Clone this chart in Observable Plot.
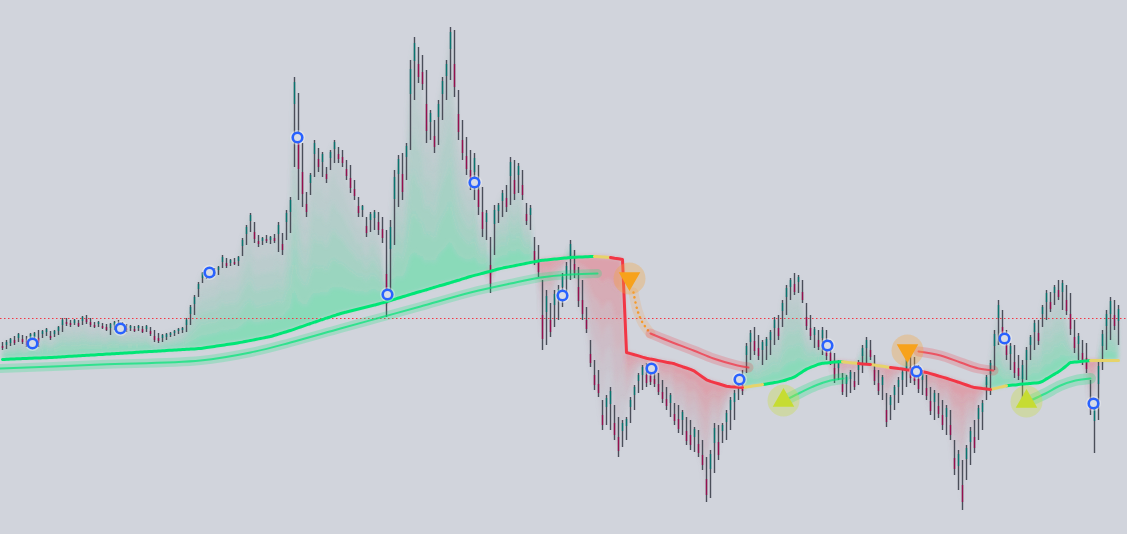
<!DOCTYPE html>
<html><head><meta charset="utf-8">
<script src="https://cdn.jsdelivr.net/npm/d3@7"></script>
<script src="https://cdn.jsdelivr.net/npm/@observablehq/plot@0.6"></script>
<style>html,body{margin:0;padding:0;background:#d1d4dc;overflow:hidden}</style>
</head><body><div id="chart"></div>
<script>
// ---- price bars (bar index 0..279), values in chart price units ----
const high = [
192,194,196,198,201,199,198,201,202,204,
204,206,203,204,208,216,216,214,215,214,
218,219,216,212,213,211,210,211,213,214,
212,210,209,208,209,208,209,207,204,201,
200,201,202,204,206,207,216,229,239,252,
262,266,265,266,268,279,276,275,276,278,
296,309,321,312,299,297,299,298,300,312,
301,324,337,457,441,391,342,361,394,386,
382,367,384,394,387,384,374,369,354,337,
329,317,322,324,322,317,304,314,364,379,
381,391,474,497,487,479,464,424,414,434,
457,474,507,504,444,414,397,384,381,369,
347,324,297,329,331,344,349,377,374,371,
364,331,329,297,289,254,244,231,244,249,
261,272,294,284,267,254,227,194,174,164,
134,139,147,129,117,114,117,137,149,161,
169,171,169,164,161,154,147,141,131,129,
124,117,114,107,104,94,77,84,111,109,
111,124,137,144,159,164,191,204,207,199,
194,197,204,217,219,234,249,256,261,259,
254,231,219,207,204,207,204,194,181,174,
161,159,164,162,174,189,197,194,179,164,
159,141,139,149,157,164,177,184,177,169,
164,159,147,144,141,134,129,124,94,84,
74,89,107,114,129,134,159,174,204,234,
224,204,191,189,179,174,187,199,214,214,
229,244,242,249,254,254,249,241,214,201,
194,191,154,134,174,204,224,237,234,229];
const low = [
184,185,188,189,192,190,187,191,193,187,
196,198,194,197,199,202,208,207,209,207,
209,210,207,206,207,205,203,199,204,206,
203,202,203,202,203,201,202,198,192,191,
192,194,197,198,200,201,202,209,219,237,
251,255,257,258,259,266,266,268,269,268,
278,289,302,291,287,289,291,290,291,282,
279,294,301,367,334,327,317,339,357,362,
357,351,364,371,371,367,354,341,334,317,
317,297,302,304,299,291,217,241,289,327,
334,354,384,434,451,444,391,394,381,389,
414,434,454,437,394,374,359,344,334,319,
297,294,241,279,311,317,322,329,334,341,
334,309,304,269,257,184,189,197,207,214,
227,239,254,256,227,214,201,167,144,137,
104,109,104,94,77,87,94,111,124,141,
144,147,149,147,139,131,124,117,109,101,
99,89,84,82,77,64,32,36,61,74,
91,94,104,114,134,139,161,174,179,174,
169,174,179,189,194,207,219,234,239,241,
231,204,194,186,184,179,174,169,151,154,
139,137,141,144,149,161,169,174,149,139,
134,107,114,124,131,139,147,151,149,141,
139,134,119,114,116,104,99,94,59,44,
24,54,69,81,94,104,134,139,164,189,
191,174,164,156,154,127,154,174,184,189,
207,214,222,229,234,224,219,199,181,174,
169,161,119,81,114,164,184,194,204,189];
const open = [
188,189,191,194,196,195,193,196,197,196,
200,202,198,200,203,209,212,211,211,211,
213,215,212,209,210,208,207,206,209,210,
208,206,206,205,206,205,205,203,198,196,
196,197,199,201,203,204,209,220,230,245,
256,261,261,262,264,272,271,271,272,273,
288,300,313,302,293,293,295,294,296,300,
290,312,322,430,395,362,330,351,380,375,
372,360,376,385,380,377,365,356,345,328,
324,308,314,316,312,305,260,285,335,360,
360,377,440,473,470,462,430,412,398,417,
440,458,485,470,420,394,378,364,362,344,
322,312,269,310,323,333,336,358,354,359,
349,320,319,283,273,219,222,214,229,235,
247,259,278,270,247,234,214,180,159,150,
119,127,130,111,97,103,108,127,139,153,
159,159,159,155,150,142,135,131,120,115,
114,103,99,97,90,79,55,65,91,92,
103,112,124,132,149,151,179,192,193,186,
184,188,194,206,206,223,237,247,250,252,
242,217,206,199,194,196,189,181,166,166,
150,150,155,153,164,178,186,184,164,151,
149,124,129,139,147,154,165,167,163,155,
154,146,133,132,128,119,117,109,76,68,
49,75,92,97,115,122,149,160,188,216,
207,189,180,172,166,155,174,189,202,201,
220,232,232,241,244,242,234,220,197,190,
181,176,136,113,150,188,208,220,219,213];
const close = [
186,192,195,191,200,192,189,200,201,191,
203,205,196,203,207,214,210,209,214,208,
217,212,209,207,212,206,204,210,212,208,
205,204,208,203,208,202,208,200,194,193,
199,200,201,203,205,206,214,227,237,250,
261,257,264,260,267,277,268,274,270,277,
294,307,319,295,290,296,293,297,293,309,
284,321,334,452,365,340,322,359,391,367,
380,355,382,392,375,371,358,346,338,321,
328,301,320,322,304,296,230,307,357,375,
342,388,465,491,457,450,403,421,387,430,
453,470,502,447,402,381,365,351,376,327,
305,321,250,324,329,341,327,372,340,368,
339,313,326,274,262,195,238,202,240,245,
257,268,290,261,233,220,205,171,149,141,
109,136,143,99,83,111,115,134,147,159,
167,151,152,150,142,135,128,139,113,105,
122,93,89,105,81,69,39,80,106,79,
109,121,134,141,157,143,188,201,183,178,
192,195,202,214,198,231,246,254,242,257,
234,208,198,205,187,204,178,172,155,172,
142,157,162,147,172,186,194,177,153,143,
157,112,137,147,154,162,174,156,153,145,
162,138,123,141,120,109,126,99,65,80,
32,86,103,86,126,131,157,171,200,229,
196,179,188,161,158,169,184,197,211,193,
227,241,225,247,237,251,223,205,186,198,
173,165,124,129,168,200,220,233,208,225];
// ---- trend line (one value per bar) ----
const trend = [
175.0,175.2,175.4,175.6,175.7,175.9,176.0,176.2,176.4,176.5,
176.7,176.8,177.0,177.2,177.5,177.7,178.0,178.2,178.4,178.7,
178.9,179.2,179.4,179.6,179.9,180.1,180.4,180.6,180.8,181.1,
181.3,181.6,181.8,182.0,182.3,182.5,182.8,183.0,183.2,183.5,
183.7,184.0,184.2,184.4,184.7,184.9,185.2,185.4,185.6,185.9,
186.3,186.9,187.5,188.1,188.7,189.3,189.9,190.5,191.1,191.7,
192.4,193.2,194.0,194.8,195.6,196.4,197.2,198.0,199.2,200.4,
201.6,202.8,204.0,205.4,206.8,208.2,209.6,211.0,212.3,213.7,
215.0,216.3,217.7,219.0,220.3,221.5,222.5,223.5,224.5,225.5,
226.5,227.5,228.5,229.5,230.5,231.6,232.8,234.0,235.2,236.5,
237.7,238.9,240.1,241.3,242.5,243.6,244.8,246.0,247.2,248.4,
249.5,250.7,251.9,253.1,254.3,255.6,256.8,258.0,259.1,260.1,
261.2,262.3,263.3,264.4,265.5,266.4,267.2,268.0,268.8,269.6,
270.4,271.2,272.0,272.8,273.6,274.2,274.6,275.0,275.4,275.8,
276.2,276.6,277.0,277.2,277.4,277.5,277.7,277.9,278.0,277.8,
277.6,277.2,277.0,276.3,275.7,275.0,182.0,180.9,179.7,178.6,
177.4,176.3,175.4,174.7,173.9,173.1,172.3,171.6,170.7,169.2,
167.8,166.5,165.1,163.3,160.4,157.6,154.7,153.1,151.9,150.7,
149.5,148.3,147.8,147.6,147.3,147.1,147.5,148.1,148.7,149.3,
149.9,150.5,151.2,151.9,152.6,153.6,154.8,156.1,157.6,160.2,
162.8,165.4,167.2,168.7,170.2,171.2,171.6,172.0,172.4,172.8,
172.8,172.3,171.8,171.4,170.9,170.6,170.3,170.0,169.4,168.8,
168.2,167.6,167.0,166.5,165.9,165.4,164.8,164.3,163.8,163.2,
162.7,162.1,160.9,159.7,158.5,157.4,156.2,154.9,153.6,152.3,
150.9,149.5,148.1,146.9,146.4,145.9,145.5,145.0,145.9,146.9,
147.8,148.8,149.3,149.6,150.0,150.4,150.7,151.1,151.5,151.8,
153.2,155.6,158.0,160.4,162.8,165.6,168.8,172.0,172.4,172.8,
173.2,173.6,174.0,174.0,174.0,174.0,174.0,174.0,174.0,174.0];
// trend state segments (start bar index, state)
const segStart = [0,148,152,185,190,210,214,217,222,247,251,272];
const segState = ["up","mid","down","mid","up","mid","down","mid","down","mid","up","mid"];
// reference level
const levelLine = [216];
// ring markers
const markIdx = [7.5,29.5,51.75,73.75,96.25,118,140,162.25,184.25,206.25,228.5,250.5,272.75];
const markVal = [191,206,262,397,240,352,239,166,155,189,163,196,131];
// echo lines
const shadowIdx = [-0.5,24.5,49.5,62,72,84.5,94.5,104.5,117,127,134.5,142,148.75];
const shadowVal = [166,170,174,182,192,206,217,228,242,251,257,260,261];
const trailDotIdx = [157.75,158.75,160,162];
const trailDotVal = [242,224,212,201];
const trailR1Idx = [162,166.25,172.75,177.75,183.75,186.5];
const trailR1Val = [201,194,184,176,169,167];
const trailG1Idx = [196.5,199.5,203.25,207,210.25];
const trailG1Val = [136,142,149,154,156];
const trailR2Idx = [229,234.5,239.5,244,247.75];
const trailR2Val = [183,179,172,166,164];
const trailG2Idx = [257,260.75,264.5,268.25,272];
const trailG2Val = [134,141,149,154,156];
// signal arrows
const arrowIdx = [156.75,195.25,226.25,256];
const arrowVal = [256,134,184,133];
const arrowDir = ["down","up","down","up"];

// ---- build tables ----
const N = high.length;
const bars = high.map((h, i) => ({i, high: h, low: low[i], open: open[i], close: close[i], trend: trend[i]}));
const segPts = [];
segStart.forEach((s, k) => {
  const e = k + 1 < segStart.length ? segStart[k + 1] : N - 1;
  for (let i = s; i <= e; i++) segPts.push({i, v: trend[i], seg: k, state: segState[k]});
});
const pts = (xs, ys) => xs.map((x, k) => ({i: x, v: ys[k]}));
const shadow = pts(shadowIdx, shadowVal);
const tDot = pts(trailDotIdx, trailDotVal), tR1 = pts(trailR1Idx, trailR1Val),
      tG1 = pts(trailG1Idx, trailG1Val), tR2 = pts(trailR2Idx, trailR2Val), tG2 = pts(trailG2Idx, trailG2Val);
const marks = pts(markIdx, markVal);
const arrows = arrowIdx.map((x, k) => ({i: x, v: arrowVal[k], dir: arrowDir[k]}));
const GREEN = "#00e676", RED = "#f23645", MID = "#e6d36a", GRAY = "#8e939e";

// fill between trend and close, split in bands so colour fades from the line toward the price
const K = 6;
function bands(above, color, a0, a1) {
  const out = [];
  const mix = d3.interpolateRgb(color, GRAY);
  for (let k = 0; k < K; k++) {
    const f0 = k / K, f1 = (k + 1) / K;
    const c = d => above ? Math.max(d.close, d.trend) : Math.min(d.close, d.trend);
    out.push(Plot.areaY(bars, {
      x: "i",
      y1: d => d.trend + (c(d) - d.trend) * f0,
      y2: d => d.trend + (c(d) - d.trend) * f1,
      fill: mix(k / (K - 1) * 0.85), fillOpacity: a0 + (a1 - a0) * k / (K - 1)
    }));
  }
  return out;
}
const glow = (data, color, w = 10, o = 0.22) => Plot.line(data, {x: "i", y: "v", curve: "catmull-rom", stroke: color, strokeWidth: w, strokeOpacity: o, strokeLinecap: "round"});
const core = (data, color, w = 2, o = 0.75) => Plot.line(data, {x: "i", y: "v", curve: "catmull-rom", stroke: color, strokeWidth: w, strokeOpacity: o, strokeLinecap: "round"});

const svg = Plot.plot({
  width: 1127, height: 534, margin: 0,
  x: {domain: [-0.5, 281.25], axis: null},
  y: {domain: [0, 534], axis: null},
  style: {background: "#d1d4dc", overflow: "hidden"},
  marks: [
    ...bands(true, GREEN, 0.34, 0.16),
    ...bands(false, RED, 0.32, 0.12),
    Plot.ruleY(levelLine, {stroke: "#f23645", strokeWidth: 1, strokeDasharray: "1.5,2.5"}),
    Plot.ruleX(bars, {x: "i", y1: "low", y2: "high", stroke: "#4a4e59", strokeWidth: 1.4}),
    Plot.ruleX(bars, {filter: d => d.close >= d.open, x: "i", y1: "open", y2: "close", stroke: "#08756f", strokeWidth: 1.4}),
    Plot.ruleX(bars, {filter: d => d.close < d.open, x: "i", y1: "open", y2: "close", stroke: "#940f4e", strokeWidth: 1.4}),
    // echo lines
    glow(shadow, GREEN, 9, 0.22), core(shadow, GREEN, 2, 0.7),
    glow(tDot, "#f5a14a", 10, 0.2),
    Plot.line(tDot, {x: "i", y: "v", curve: "catmull-rom", stroke: "#f59a2a", strokeWidth: 2.5, strokeDasharray: "0.1,5", strokeLinecap: "round"}),
    glow(tR1, RED, 10, 0.22), core(tR1, RED, 2, 0.75),
    glow(tG1, GREEN, 11, 0.24), core(tG1, GREEN, 2, 0.65),
    glow(tR2, RED, 10, 0.22), core(tR2, RED, 2, 0.75),
    glow(tG2, GREEN, 11, 0.24), core(tG2, GREEN, 2, 0.65),
    // main trend line
    Plot.line(segPts, {filter: d => d.state === "up", x: "i", y: "v", z: "seg", stroke: GREEN, strokeWidth: 3, curve: "monotone-x"}),
    Plot.line(segPts, {filter: d => d.state === "mid", x: "i", y: "v", z: "seg", stroke: MID, strokeWidth: 3, curve: "monotone-x"}),
    Plot.line(segPts, {filter: d => d.state === "down", x: "i", y: "v", z: "seg", stroke: RED, strokeWidth: 3, curve: "linear"}),
    // arrows
    Plot.dot(arrows, {filter: d => d.dir === "down", x: "i", y: "v", r: 16, fill: "#f5a33a", fillOpacity: 0.33}),
    Plot.dot(arrows, {filter: d => d.dir === "up", x: "i", y: "v", r: 16, fill: "#c8df3c", fillOpacity: 0.33}),
    Plot.dot(arrows, {filter: d => d.dir === "down", x: "i", y: "v", r: 8, symbol: "triangle", rotate: 180, fill: "#f7a21b"}),
    Plot.dot(arrows, {filter: d => d.dir === "up", x: "i", y: "v", r: 8, symbol: "triangle", fill: "#c6dc32"}),
    // ring markers
    Plot.dot(marks, {x: "i", y: "v", r: 7.5, fill: "#ffffff", fillOpacity: 0.35}),
    Plot.dot(marks, {x: "i", y: "v", r: 4.8, fill: "#d8dce6", stroke: "#2962ff", strokeWidth: 2.6})
  ]
});

const defs = d3.select(svg).insert("defs", ":first-child");
const f = defs.append("filter").attr("id", "soft").attr("x", "-5%").attr("y", "-5%").attr("width", "110%").attr("height", "110%");
f.append("feGaussianBlur").attr("stdDeviation", 2.2);
d3.select(svg).selectAll('g[aria-label="area"]').attr("filter", "url(#soft)");
document.getElementById("chart").appendChild(svg);
</script>
</body></html>
